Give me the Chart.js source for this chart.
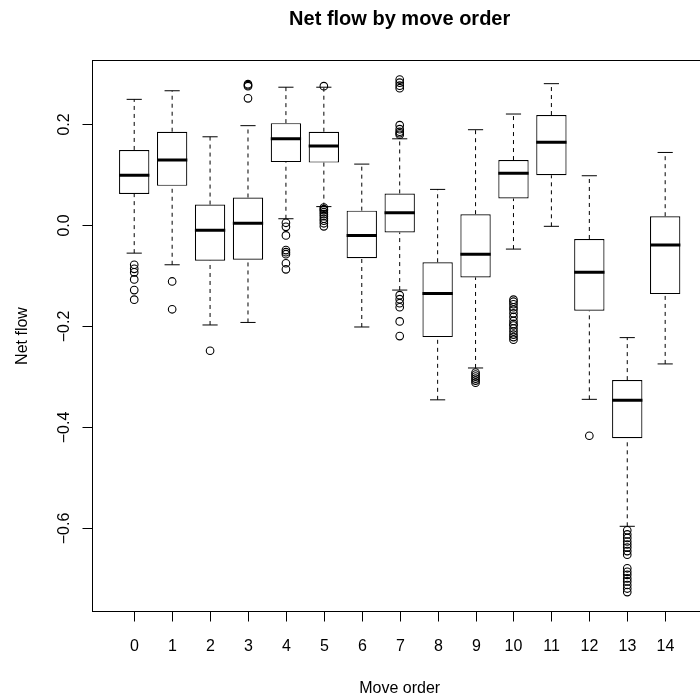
<!DOCTYPE html>
<html>
<head>
<meta charset="utf-8">
<title>Net flow by move order</title>
<script src="https://cdn.jsdelivr.net/npm/chart.js@4"></script>
<style>
  html, body { margin: 0; padding: 0; background: #fff; overflow: hidden; }
  #wrap { position: relative; width: 712px; height: 700px; }
</style>
</head>
<body>
<div id="wrap"><canvas id="chart"></canvas></div>
<script>
// move order groups (x axis)
const moveOrder = [0, 1, 2, 3, 4, 5, 6, 7, 8, 9, 10, 11, 12, 13, 14];

// five-number summaries
const whiskerLow  = [-0.056, -0.079, -0.198, -0.193, 0.012, 0.036, -0.202, -0.129, -0.346, -0.283, -0.048, -0.003, -0.345, -0.596, -0.275];
const lowerQuart  = [0.061, 0.077, -0.071, -0.069, 0.124, 0.123, -0.066, -0.015, -0.222, -0.104, 0.052, 0.098, -0.170, -0.422, -0.137];
const medians     = [0.098, 0.128, -0.011, 0.003, 0.170, 0.156, -0.021, 0.024, -0.136, -0.058, 0.102, 0.163, -0.094, -0.347, -0.040];
const upperQuart  = [0.148, 0.184, 0.040, 0.054, 0.201, 0.184, 0.028, 0.062, -0.074, 0.021, 0.128, 0.217, -0.028, -0.307, 0.017];
const whiskerHigh = [0.248, 0.265, 0.174, 0.196, 0.272, 0.272, 0.120, 0.170, 0.070, 0.188, 0.219, 0.279, 0.097, -0.223, 0.143];

// outliers per group
const outliers = [
  [-0.079, -0.087, -0.094, -0.108, -0.129, -0.148],
  [-0.112, -0.167],
  [-0.249],
  [0.278, 0.276, 0.274, 0.250],
  [0.004, -0.004, -0.021, -0.050, -0.054, -0.058, -0.076, -0.088],
  [0.274, 0.034, 0.031, 0.029, 0.025, 0.021, 0.017, 0.012, 0.008, 0.003, -0.003],
  [],
  [0.287, 0.281, 0.275, 0.270, 0.197, 0.189, 0.184, 0.181, 0.178,
   -0.139, -0.147, -0.155, -0.163, -0.191, -0.220],
  [],
  [-0.292, -0.296, -0.300, -0.304, -0.308, -0.312],
  [-0.148, -0.152, -0.157, -0.163, -0.168, -0.175, -0.182, -0.190, -0.196, -0.199,
   -0.205, -0.211, -0.217, -0.222, -0.227],
  [],
  [-0.417],
  [-0.604, -0.612, -0.619, -0.626, -0.632, -0.638, -0.645, -0.652,
   -0.679, -0.686, -0.692, -0.699, -0.705, -0.712, -0.719, -0.726],
  []
];

const yTicks = [-0.6, -0.4, -0.2, 0.0, 0.2];
const yTickLabels = ['\u22120.6', '\u22120.4', '\u22120.2', '0.0', '0.2'];

const boxHalf = 0.4;    // half of boxwex 0.8
const capHalf = 0.2;    // staple half width

// build datasets from the arrays
const boxData = moveOrder.map((m, i) => ({ x: m, y: [lowerQuart[i], upperQuart[i]] }));

const whiskerData = [];
moveOrder.forEach((m, i) => {
    whiskerData.push({ x: m, y: upperQuart[i] }, { x: m, y: whiskerHigh[i] }, { x: m, y: null });
    whiskerData.push({ x: m, y: whiskerLow[i] }, { x: m, y: lowerQuart[i] }, { x: m, y: null });
});

const capData = [];
moveOrder.forEach((m, i) => {
    capData.push({ x: m - capHalf, y: whiskerHigh[i] }, { x: m + capHalf, y: whiskerHigh[i] }, { x: m, y: null });
    capData.push({ x: m - capHalf, y: whiskerLow[i] }, { x: m + capHalf, y: whiskerLow[i] }, { x: m, y: null });
});

const medianData = [];
moveOrder.forEach((m, i) => {
    medianData.push({ x: m - boxHalf, y: medians[i] }, { x: m + boxHalf, y: medians[i] }, { x: m, y: null });
});

const outlierData = [];
moveOrder.forEach((m, i) => {
    outliers[i].forEach(v => outlierData.push({ x: m, y: v }));
});

// R style frame, ticks and labels drawn with the chart scales
const rAxes = {
    id: 'rAxes',
    afterDraw(chart) {
        const ctx = chart.ctx;
        const area = chart.chartArea;
        const xs = chart.scales.x;
        const ys = chart.scales.y;
        const cx = (area.left + area.right) / 2;
        ctx.save();
        ctx.strokeStyle = '#000';
        ctx.fillStyle = '#000';
        ctx.lineWidth = 1;

        // box around the plot
        ctx.strokeRect(area.left, area.top, area.right - area.left, area.bottom - area.top);

        // y ticks
        ctx.font = '16px "Liberation Sans", Arial, Helvetica, sans-serif';
        yTicks.forEach((v, i) => {
            const y = Math.round(ys.getPixelForValue(v)) + 0.5;
            ctx.beginPath();
            ctx.moveTo(area.left - 10, y);
            ctx.lineTo(area.left, y);
            ctx.stroke();
            ctx.save();
            ctx.translate(area.left - 24, y);
            ctx.rotate(-Math.PI / 2);
            ctx.textAlign = 'center';
            ctx.textBaseline = 'alphabetic';
            ctx.fillText(yTickLabels[i], 0, 0);
            ctx.restore();
        });

        // x ticks
        moveOrder.forEach(m => {
            const x = Math.round(xs.getPixelForValue(m)) + 0.5;
            ctx.beginPath();
            ctx.moveTo(x, area.bottom);
            ctx.lineTo(x, area.bottom + 10);
            ctx.stroke();
            ctx.textAlign = 'center';
            ctx.textBaseline = 'alphabetic';
            ctx.fillText(String(m), x, area.bottom + 39);
        });

        // axis titles
        ctx.fillText('Move order', cx, area.bottom + 81);
        ctx.save();
        ctx.translate(area.left - 66, (area.top + area.bottom) / 2);
        ctx.rotate(-Math.PI / 2);
        ctx.textAlign = 'center';
        ctx.fillText('Net flow', 0, 0);
        ctx.restore();

        // main title
        ctx.font = 'bold 20px "Liberation Sans", Arial, Helvetica, sans-serif';
        ctx.textAlign = 'center';
        ctx.fillText('Net flow by move order', cx, 25);
        ctx.restore();
    }
};

const chart = new Chart(document.getElementById('chart'), {
    type: 'bar',
    data: {
        datasets: [
            {
                type: 'scatter',
                label: 'Outliers',
                data: outlierData,
                pointStyle: 'circle',
                pointRadius: 3.8,
                pointBorderWidth: 1.1,
                pointBorderColor: '#000',
                pointBackgroundColor: 'rgba(0,0,0,0)',
                order: 0
            },
            {
                type: 'line',
                label: 'Median',
                data: medianData,
                borderColor: '#000',
                borderWidth: 3,
                borderCapStyle: 'butt',
                pointRadius: 0,
                spanGaps: false,
                order: 1
            },
            {
                type: 'bar',
                label: 'IQR',
                data: boxData,
                backgroundColor: '#fff',
                borderColor: '#000',
                borderWidth: 1.2,
                borderSkipped: false,
                barPercentage: 0.8,
                categoryPercentage: 1.0,
                order: 2
            },
            {
                type: 'line',
                label: 'Whiskers',
                data: whiskerData,
                borderColor: '#000',
                borderWidth: 1,
                borderDash: [4, 4],
                pointRadius: 0,
                spanGaps: false,
                order: 3
            },
            {
                type: 'line',
                label: 'Caps',
                data: capData,
                borderColor: '#000',
                borderWidth: 1,
                pointRadius: 0,
                spanGaps: false,
                order: 4
            }
        ]
    },
    options: {
        responsive: true,
        maintainAspectRatio: false,
        animation: false,
        layout: {
            padding: { left: 92.5, right: 2, top: 60.5, bottom: 88.5 }
        },
        scales: {
            x: {
                type: 'linear',
                min: -1.1,
                max: 15.1,
                offset: false,
                display: false
            },
            y: {
                type: 'linear',
                min: -0.7644,
                max: 0.3248,
                display: false
            }
        },
        plugins: {
            legend: { display: false },
            tooltip: { enabled: false },
            title: { display: false }
        }
    },
    plugins: [rAxes]
});
</script>
</body>
</html>
